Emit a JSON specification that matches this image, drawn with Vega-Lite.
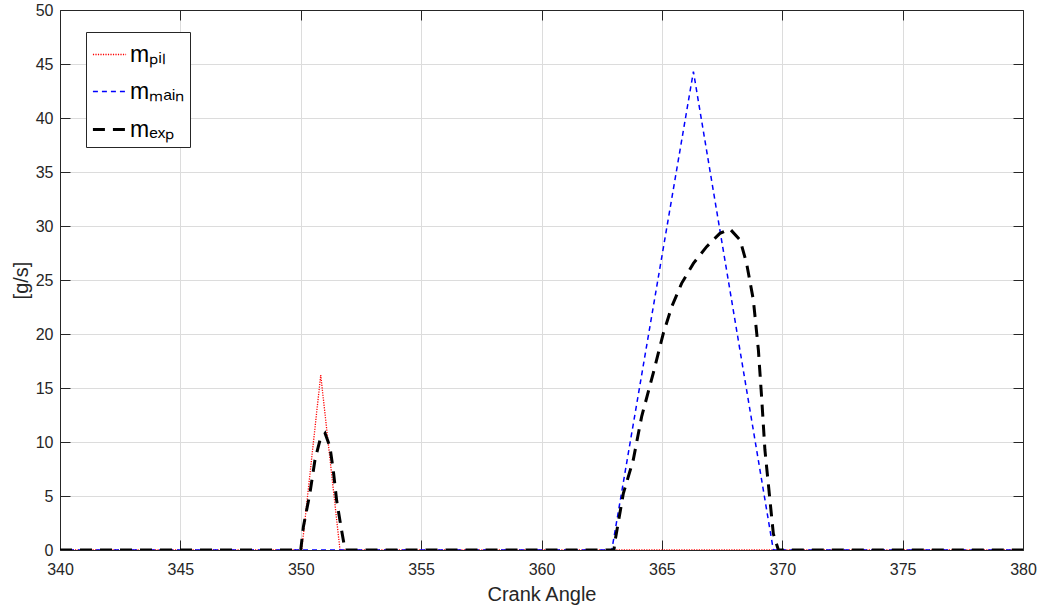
{
  "$schema": "https://vega.github.io/schema/vega-lite/v6.json",
  "width": 963,
  "height": 540,
  "autosize": {"type": "none"},
  "padding": {"left": 60, "top": 10, "right": 21, "bottom": 62},
  "background": "white",
  "config": {
    "view": {"stroke": null},
    "font": "Liberation Sans",
    "axis": {
      "domainColor": "#262626",
      "tickColor": "#262626",
      "labelColor": "#262626",
      "titleColor": "#262626",
      "labelFont": "Liberation Sans",
      "titleFont": "Liberation Sans",
      "labelFontSize": 16,
      "titleFontSize": 20,
      "titleFontWeight": "normal",
      "gridColor": "#dcdcdc",
      "gridWidth": 1,
      "domainWidth": 1,
      "tickWidth": 1
    }
  },
  "data": {
    "values": [
      {"angle": 340, "rate": 0, "series": "pil"},
      {"angle": 350.04, "rate": 0, "series": "pil"},
      {"angle": 350.83, "rate": 16.2, "series": "pil"},
      {"angle": 351.63, "rate": 0, "series": "pil"},
      {"angle": 380, "rate": 0, "series": "pil"},
      {"angle": 340, "rate": 0, "series": "main"},
      {"angle": 362.92, "rate": 0, "series": "main"},
      {"angle": 366.31, "rate": 44.3, "series": "main"},
      {"angle": 369.63, "rate": 0, "series": "main"},
      {"angle": 380, "rate": 0, "series": "main"},
      {"angle": 340, "rate": 0, "series": "exp"},
      {"angle": 350.0, "rate": 0, "series": "exp"},
      {"angle": 350.11, "rate": 2.16, "series": "exp"},
      {"angle": 350.38, "rate": 5.25, "series": "exp"},
      {"angle": 350.59, "rate": 8.33, "series": "exp"},
      {"angle": 350.8, "rate": 10.2, "series": "exp"},
      {"angle": 351.01, "rate": 10.8, "series": "exp"},
      {"angle": 351.21, "rate": 9.57, "series": "exp"},
      {"angle": 351.35, "rate": 7.4, "series": "exp"},
      {"angle": 351.49, "rate": 4.6, "series": "exp"},
      {"angle": 351.67, "rate": 2.16, "series": "exp"},
      {"angle": 351.84, "rate": 0, "series": "exp"},
      {"angle": 363.01, "rate": 0, "series": "exp"},
      {"angle": 363.05, "rate": 0.77, "series": "exp"},
      {"angle": 363.4, "rate": 5.25, "series": "exp"},
      {"angle": 363.81, "rate": 8.33, "series": "exp"},
      {"angle": 364.16, "rate": 12.35, "series": "exp"},
      {"angle": 364.64, "rate": 16.36, "series": "exp"},
      {"angle": 365.06, "rate": 20.06, "series": "exp"},
      {"angle": 365.41, "rate": 22.53, "series": "exp"},
      {"angle": 365.82, "rate": 24.69, "series": "exp"},
      {"angle": 366.31, "rate": 26.54, "series": "exp"},
      {"angle": 366.86, "rate": 28.09, "series": "exp"},
      {"angle": 367.41, "rate": 29.32, "series": "exp"},
      {"angle": 367.83, "rate": 29.72, "series": "exp"},
      {"angle": 368.25, "rate": 28.7, "series": "exp"},
      {"angle": 368.52, "rate": 26.54, "series": "exp"},
      {"angle": 368.8, "rate": 23.15, "series": "exp"},
      {"angle": 369.01, "rate": 18.5, "series": "exp"},
      {"angle": 369.15, "rate": 13.9, "series": "exp"},
      {"angle": 369.28, "rate": 9.26, "series": "exp"},
      {"angle": 369.49, "rate": 4.6, "series": "exp"},
      {"angle": 369.63, "rate": 1.5, "series": "exp"},
      {"angle": 369.84, "rate": 0, "series": "exp"},
      {"angle": 380, "rate": 0, "series": "exp"}
    ]
  },
  "layer": [
    {
      "mark": {"type": "line", "clip": true},
      "encoding": {
        "x": {
          "field": "angle",
          "type": "quantitative",
          "scale": {"domain": [340, 380], "nice": false, "zero": false},
          "axis": {
            "orient": "bottom",
            "values": [340, 345, 350, 355, 360, 365, 370, 375, 380],
            "title": "Crank Angle",
            "grid": true,
            "tickSize": -10,
            "labelPadding": 21,
            "titlePadding": 7,
            "labelFlush": false
          }
        },
        "y": {
          "field": "rate",
          "type": "quantitative",
          "scale": {"domain": [0, 50], "nice": false},
          "axis": {
            "orient": "left",
            "values": [0, 5, 10, 15, 20, 25, 30, 35, 40, 45, 50],
            "title": "[g/s]",
            "grid": true,
            "tickSize": -10,
            "labelPadding": 17,
            "titlePadding": 4,
            "labelFlush": false
          }
        },
        "color": {
          "field": "series",
          "type": "nominal",
          "scale": {"domain": ["pil", "main", "exp"], "range": ["#ff0000", "#0000ff", "#000000"]},
          "legend": {
            "title": null,
            "orient": "none",
            "legendX": 26,
            "legendY": 22,
            "symbolType": "stroke",
            "symbolSize": 1100,
            "labelFont": "Liberation Sans",
            "labelFontSize": 23,
            "labelColor": "#000000",
            "labelOffset": 2,
            "rowPadding": 7,
            "padding": 5,
            "strokeColor": "#262626",
            "fillColor": "white",
            "labelExpr": "datum.value == 'pil' ? 'mₚᵢₗ' : datum.value == 'main' ? 'mₘₐᵢₙ' : 'mₑₓₚ'",
            "encode": {"symbols": {"update": {"strokeWidth": {"signal": "datum.value == 'exp' ? 3 : 1.5"}}}}
          }
        },
        "strokeDash": {
          "field": "series",
          "type": "nominal",
          "scale": {"domain": ["pil", "main", "exp"], "range": [[1.2, 1.3], [5, 4], [12, 8]]},
          "legend": {
            "title": null,
            "orient": "none",
            "legendX": 26,
            "legendY": 22,
            "symbolType": "stroke",
            "symbolSize": 1100,
            "labelFont": "Liberation Sans",
            "labelFontSize": 23,
            "labelColor": "#000000",
            "labelOffset": 2,
            "rowPadding": 7,
            "padding": 5,
            "strokeColor": "#262626",
            "fillColor": "white",
            "labelExpr": "datum.value == 'pil' ? 'mₚᵢₗ' : datum.value == 'main' ? 'mₘₐᵢₙ' : 'mₑₓₚ'",
            "encode": {"symbols": {"update": {"strokeWidth": {"signal": "datum.value == 'exp' ? 3 : 1.5"}}}}
          }
        },
        "strokeWidth": {
          "field": "series",
          "type": "ordinal",
          "sort": ["pil", "main", "exp"],
          "scale": {"type": "ordinal", "domain": ["pil", "main", "exp"], "range": [1.3, 1.5, 3]},
          "legend": null
        }
      }
    },
    {
      "mark": {"type": "line", "strokeOpacity": 0},
      "encoding": {
        "x": {
          "field": "angle",
          "type": "quantitative",
          "axis": {"orient": "top", "values": [340, 345, 350, 355, 360, 365, 370, 375, 380], "labels": false, "title": null, "grid": false, "tickSize": -10}
        },
        "y": {
          "field": "rate",
          "type": "quantitative",
          "axis": {"orient": "right", "values": [0, 5, 10, 15, 20, 25, 30, 35, 40, 45, 50], "labels": false, "title": null, "grid": false, "tickSize": -10}
        },
        "detail": {"field": "series", "type": "nominal"}
      }
    }
  ]
}
